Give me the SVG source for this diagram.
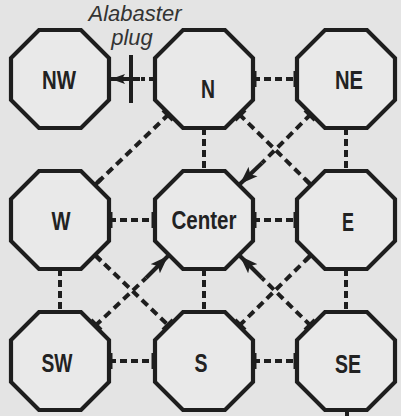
<svg xmlns="http://www.w3.org/2000/svg" width="401" height="416" viewBox="0 0 401 416">
<defs>
<style>
.oct{fill:#e9e9e9;stroke:#1e1e1e;stroke-width:4.2;stroke-linejoin:miter}
.lbl{font-family:"Liberation Sans",Arial,sans-serif;font-weight:bold;font-size:25px;fill:#222;text-anchor:middle}
.note{font-family:"Liberation Sans",Arial,sans-serif;font-style:italic;font-size:22px;fill:#333;text-anchor:middle}
.dash{stroke:#1e1e1e;stroke-width:4;stroke-dasharray:7 4;fill:none}
.solid{stroke:#1e1e1e;stroke-width:4;fill:none}
.tick{stroke:#1e1e1e;stroke-width:4;fill:none}
</style>
<marker id="arr" markerUnits="userSpaceOnUse" markerWidth="20" markerHeight="14" refX="18" refY="7" orient="auto">
<path d="M0,0.5 L18,7 L0,13.5 L4,7 Z" fill="#1e1e1e"/>
</marker>
<marker id="arrS" markerUnits="userSpaceOnUse" markerWidth="16" markerHeight="12" refX="14" refY="6" orient="auto">
<path d="M0,1 L14,6 L0,11 L3,6 Z" fill="#1e1e1e"/>
</marker>
<polygon id="octShape" points="-21,-49 21,-49 49,-21 49,21 21,49 -21,49 -49,21 -49,-21"/>
</defs>
<rect width="401" height="416" fill="#e4e4e4"/>

<g id="connectors">
<!-- horizontal -->
<line class="dash" x1="253" y1="79" x2="297" y2="79"/>
<line class="dash" x1="109" y1="220" x2="155" y2="220"/>
<line class="dash" x1="253" y1="220" x2="297" y2="220"/>
<line class="dash" x1="109" y1="361" x2="155" y2="361"/>
<line class="dash" x1="253" y1="361" x2="297" y2="361"/>
<!-- vertical -->
<line class="dash" x1="204" y1="128" x2="204" y2="171"/>
<line class="dash" x1="346" y1="128" x2="346" y2="171"/>
<line class="dash" x1="60" y1="269" x2="60" y2="312"/>
<line class="dash" x1="204" y1="269" x2="204" y2="312"/>
<line class="dash" x1="346" y1="269" x2="346" y2="312"/>
<line class="solid" x1="347" y1="410" x2="347" y2="416"/>
<!-- diagonals -->
<line class="dash" x1="169" y1="114" x2="95" y2="185" style="stroke-dasharray:8 5"/>
<line class="dash" x1="239" y1="114" x2="311" y2="185" style="stroke-dasharray:8 5"/>
<line class="dash" x1="95" y1="255" x2="169" y2="326" style="stroke-dasharray:8 5"/>
<line class="dash" x1="239" y1="326" x2="311" y2="255" style="stroke-dasharray:8 5"/>
<!-- arrows into Center -->
<line class="dash" x1="311" y1="114" x2="262" y2="163" style="stroke-dasharray:8 5"/>
<line class="solid" x1="262" y1="163" x2="240" y2="184" marker-end="url(#arr)"/>
<line class="dash" x1="95" y1="326" x2="146" y2="278" style="stroke-dasharray:8 5"/>
<line class="solid" x1="146" y1="278" x2="168" y2="256" marker-end="url(#arr)"/>
<line class="dash" x1="311" y1="326" x2="262" y2="278" style="stroke-dasharray:8 5"/>
<line class="solid" x1="262" y1="278" x2="240" y2="256" marker-end="url(#arr)"/>
<!-- alabaster plug N -> NW -->
<line class="dash" x1="155" y1="79" x2="141" y2="79" style="stroke-dasharray:6 4"/>
<line class="solid" x1="140" y1="79" x2="111" y2="79" marker-end="url(#arrS)"/>
<line class="solid" x1="131" y1="55" x2="131" y2="103"/>
<!-- door ticks -->
<line class="tick" x1="155.5" y1="71" x2="155.5" y2="87"/>
<line class="tick" x1="254.5" y1="71" x2="254.5" y2="87"/>
<line class="tick" x1="295.5" y1="71" x2="295.5" y2="87"/>
<line class="tick" x1="110.5" y1="212" x2="110.5" y2="228"/>
<line class="tick" x1="153.5" y1="212" x2="153.5" y2="228"/>
<line class="tick" x1="254.5" y1="212" x2="254.5" y2="228"/>
<line class="tick" x1="295.5" y1="212" x2="295.5" y2="228"/>
<line class="tick" x1="110.5" y1="353" x2="110.5" y2="369"/>
<line class="tick" x1="153.5" y1="353" x2="153.5" y2="369"/>
<line class="tick" x1="254.5" y1="353" x2="254.5" y2="369"/>
<line class="tick" x1="295.5" y1="353" x2="295.5" y2="369"/>
<line class="tick" x1="164" y1="109" x2="174" y2="119" transform="translate(-1,1)"/>
<line class="tick" x1="244" y1="109" x2="234" y2="119" transform="translate(1,1)"/>
<line class="tick" x1="306" y1="109" x2="316" y2="119" transform="translate(-1,1)"/>
<line class="tick" x1="90" y1="190" x2="100" y2="180" transform="translate(1,-1)"/>
<line class="tick" x1="306" y1="180" x2="316" y2="190" transform="translate(-1,-1)"/>
<line class="tick" x1="90" y1="250" x2="100" y2="260" transform="translate(1,1)"/>
<line class="tick" x1="306" y1="260" x2="316" y2="250" transform="translate(-1,1)"/>
<line class="tick" x1="90" y1="321" x2="100" y2="331" transform="translate(1,-1)"/>
<line class="tick" x1="164" y1="331" x2="174" y2="321" transform="translate(-1,-1)"/>
<line class="tick" x1="234" y1="321" x2="244" y2="331" transform="translate(1,-1)"/>
<line class="tick" x1="306" y1="331" x2="316" y2="321" transform="translate(-1,-1)"/>
</g>

<g id="NW"><use href="#octShape" class="oct" transform="translate(60,79)"/><text class="lbl" x="59" y="89" textLength="34" lengthAdjust="spacingAndGlyphs">NW</text></g>
<g id="N"><use href="#octShape" class="oct" transform="translate(204,79)"/><text class="lbl" x="208" y="98" textLength="14" lengthAdjust="spacingAndGlyphs">N</text></g>
<g id="NE"><use href="#octShape" class="oct" transform="translate(346,79)"/><text class="lbl" x="349" y="89" textLength="28" lengthAdjust="spacingAndGlyphs">NE</text></g>
<g id="W"><use href="#octShape" class="oct" transform="translate(60,220)"/><text class="lbl" x="61" y="230" textLength="19" lengthAdjust="spacingAndGlyphs">W</text></g>
<g id="Center"><use href="#octShape" class="oct" transform="translate(204,220)"/><text class="lbl" x="204" y="229" textLength="65" lengthAdjust="spacingAndGlyphs">Center</text></g>
<g id="E"><use href="#octShape" class="oct" transform="translate(346,220)"/><text class="lbl" x="348" y="231" textLength="12" lengthAdjust="spacingAndGlyphs">E</text></g>
<g id="SW"><use href="#octShape" class="oct" transform="translate(60,361)"/><text class="lbl" x="57" y="372" textLength="31" lengthAdjust="spacingAndGlyphs">SW</text></g>
<g id="S"><use href="#octShape" class="oct" transform="translate(204,361)"/><text class="lbl" x="201" y="372" textLength="13" lengthAdjust="spacingAndGlyphs">S</text></g>
<g id="SE"><use href="#octShape" class="oct" transform="translate(346,361)"/><text class="lbl" x="348" y="373" textLength="26" lengthAdjust="spacingAndGlyphs">SE</text></g>

<g id="plug-label">
<text class="note" x="135" y="21">Alabaster</text>
<text class="note" x="132" y="45">plug</text>
</g>
</svg>
